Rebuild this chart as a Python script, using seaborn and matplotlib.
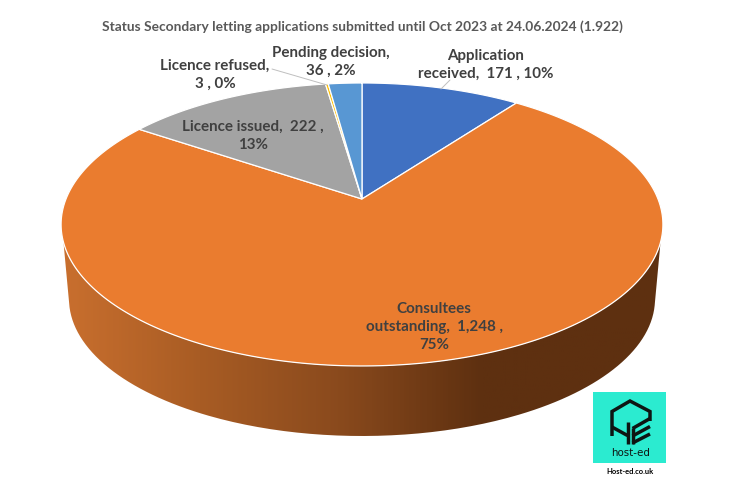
import numpy as np
import seaborn as sns
import matplotlib.pyplot as plt
from matplotlib.colors import LinearSegmentedColormap
from matplotlib.path import Path
from matplotlib.patches import PathPatch
from matplotlib.transforms import Affine2D, Transform

# Data
categories = ['Application received', 'Consultees outstanding', 'Licence issued', 'Licence refused', 'Pending decision']
counts = [171, 1248, 222, 3, 36]
percents = [10, 75, 13, 0, 2]
colors = ['#4071C2', '#EA7C2F', '#A3A3A3', '#FFC000', '#5897D3']
title = 'Status Secondary letting applications submitted until Oct 2023 at 24.06.2024 (1.922)'

sns.set_theme(style='white')
plt.rcParams['font.family'] = ['Lato', 'DejaVu Sans']
TEXT = '#404040'

# Perspective of the tilted pie, in image pixels
CX, CY = 362.0, 224.5     # centre of the top ellipse
A, B = 296.0, 141.5
C, K = 25.5, 0.18         # how far the apex sits above centre, perspective strength


class Tilt(Transform):
    input_dims = output_dims = 2

    def transform_non_affine(self, xy):
        xy = np.asarray(xy, float)
        w = 1 + K * xy[:, 1]
        return np.column_stack([CX + A * xy[:, 0] / w, CY - (B * xy[:, 1] + C) / w])

    def transform_path_non_affine(self, path):
        # flatten the bezier arcs first, a bigger scale gives more segments
        poly = path.to_polygons(Affine2D().scale(3000), closed_only=False)[0] / 3000
        return Path(self.transform_non_affine(poly))


fig = plt.figure(figsize=(7.32, 4.91), dpi=100)
ax = fig.add_axes([0, 0, 1, 1])

wedges, _ = ax.pie(counts, colors=colors, startangle=90, counterclock=False,
                   wedgeprops={'edgecolor': 'white', 'linewidth': 0.9, 'zorder': 3})
tilt = Tilt()
for w in wedges:
    w.set_transform(tilt + ax.transData)

ax.set_aspect('auto')
ax.set_xlim(0, 732)
ax.set_ylim(491, 0)
ax.axis('off')

# Side of the pie: gradient clipped to the band between the two ellipses
t = np.linspace(0.13, np.pi - 0.13, 200)
t_low = np.linspace(0.03, np.pi - 0.03, 200)
top_x, top_y = CX + 301 * np.cos(t), CY + 141.5 * np.sin(t)
low_x, low_y = CX + 293 * np.cos(t_low), 299 + 137 * np.sin(t_low)
# the band goes up under the top ellipse, so no gap shows at the rim
band = np.column_stack([np.r_[top_x, low_x[::-1]], np.r_[top_y, low_y[::-1]]])
side_cmap = LinearSegmentedColormap.from_list(
    'side', [(0, '#C96F2E'), (0.23, '#A85C24'), (0.46, '#8A4A1D'), (0.7, '#5E3010'), (1, '#5E3010')])
img = ax.imshow(np.linspace(0, 1, 300)[None, :], cmap=side_cmap, extent=(61, 663, 440, 220),
                aspect='auto', zorder=1)
clip = PathPatch(Path(band), transform=ax.transData, facecolor='none', edgecolor='none')
ax.add_patch(clip)
img.set_clip_path(clip)
ax.set_xlim(0, 732)
ax.set_ylim(491, 0)

# Title and data labels
fs = 10.9
ax.text(362, 27, title, ha='center', va='center', fontsize=9.95, fontweight='bold', color='#595959')
lab = dict(ha='center', va='center', fontsize=fs, fontweight='bold', color=TEXT, linespacing=1.33, zorder=5)
ax.text(486, 65, f'Application\nreceived,  {counts[0]} , {percents[0]}%', **lab)
ax.text(434, 327, f'Consultees\noutstanding,  {counts[1]:,} ,\n{percents[1]}%', **lab)
ax.text(253, 136, f'Licence issued,  {counts[2]} ,\n{percents[2]}%', **lab)
ax.text(215, 75, f'Licence refused,\n{counts[3]} , {percents[3]}%', **lab)
ax.text(331, 62, f'Pending decision,\n{counts[4]} , {percents[4]}%', **lab)

# Leader lines
ax.plot([272, 327], [69, 85], color='#BFBFBF', lw=0.7, zorder=4)
ax.plot([450, 441], [80, 89], color='#BFBFBF', lw=0.7, zorder=4)

# host-ed logo
ax.fill_between([593, 666], 392, 463, color='#2BEBD0', lw=0, zorder=2)
logo = dict(color='#0E1513', lw=2.5, solid_joinstyle='miter', solid_capstyle='butt', zorder=3)
ax.plot([650, 650, 630, 612, 612], [421, 411.5, 401, 411.5, 436], **logo)
ax.plot([612, 627.5], [427, 435.5], **logo)
ax.plot([627.5, 627.5], [421.5, 443.5], **logo)
ax.plot([632.5, 632.5], [428, 443.5], **logo)
for y0, y1 in [(428.5, 418.5), (436, 426.5), (443, 434)]:
    ax.plot([632.5, 650], [y0, y1], **logo)
ax.text(630.5, 453, 'host-ed', ha='center', va='center', fontsize=7.4, color='#0E1513',
        family='DejaVu Sans')
ax.text(630, 471, 'Host-ed.co.uk', ha='center', va='center', fontsize=5.4, fontweight='bold', color='black')

fig.savefig('out.png', dpi=100)
